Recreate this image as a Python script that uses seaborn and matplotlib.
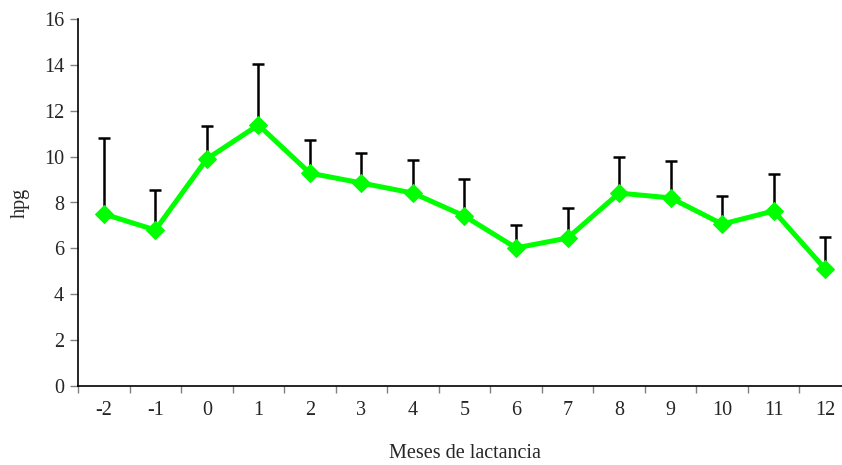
import numpy as np
import pandas as pd
import matplotlib
matplotlib.use("Agg")
import matplotlib.pyplot as plt
import seaborn as sns

# Data
meses = ["-2", "-1", "0", "1", "2", "3", "4", "5", "6", "7", "8", "9", "10", "11", "12"]
hpg = [7.5, 6.8, 9.9, 11.38, 9.28, 8.85, 8.41, 7.41, 6.02, 6.45, 8.41, 8.2, 7.06, 7.63, 5.1]
hpg_sup = [10.81, 8.54, 11.33, 14.04, 10.72, 10.16, 9.85, 9.02, 7.02, 7.76, 9.98, 9.81, 8.28, 9.24, 6.5]

df = pd.DataFrame({"pos": np.arange(len(meses)), "mes": meses, "hpg": hpg,
                   "err": np.array(hpg_sup) - np.array(hpg)})

sns.set_style("white")
plt.rcParams["font.family"] = ["Liberation Serif", "DejaVu Serif"]

fig = plt.figure(figsize=(8.42, 4.65), dpi=100)
ax = fig.add_axes([78 / 842, 79 / 465, 773 / 842, 367 / 465])

# Upper error bars only, behind the line
ax.errorbar(df["pos"], df["hpg"], yerr=[np.zeros(len(df)), df["err"]],
            fmt="none", ecolor="black", elinewidth=1.8, capsize=4.5,
            capthick=1.8, zorder=2)

sns.lineplot(data=df, x="pos", y="hpg", ax=ax, color="#00ff00", lw=3.6,
             marker="D", markersize=9, markeredgecolor="#00ff00", zorder=3)

ax.set_xlim(-0.5, len(meses) - 0.5)
ax.set_ylim(0, 16)
ax.set_yticks(range(0, 17, 2))
ax.set_xticks(df["pos"])
ax.set_xticklabels(meses)
ax.set_xticks(np.arange(-0.5, len(meses), 1), minor=True)
ax.tick_params(axis="x", which="major", length=0, labelsize=14.5, pad=11)
ax.tick_params(axis="x", which="minor", length=5, width=1, color="#808080",
               direction="out", bottom=True)
ax.tick_params(axis="y", length=6, width=1, color="#808080", direction="out",
               left=True, labelsize=14.5, pad=4)

for s in ["top", "right"]:
    ax.spines[s].set_visible(False)
for s in ["left", "bottom"]:
    ax.spines[s].set_color("black")
    ax.spines[s].set_linewidth(1.2)

ax.set_xlabel("Meses de lactancia", fontsize=14.5, labelpad=17)
ax.set_ylabel("hpg", fontsize=14.5, labelpad=10)

fig.savefig("out.png", dpi=100)
